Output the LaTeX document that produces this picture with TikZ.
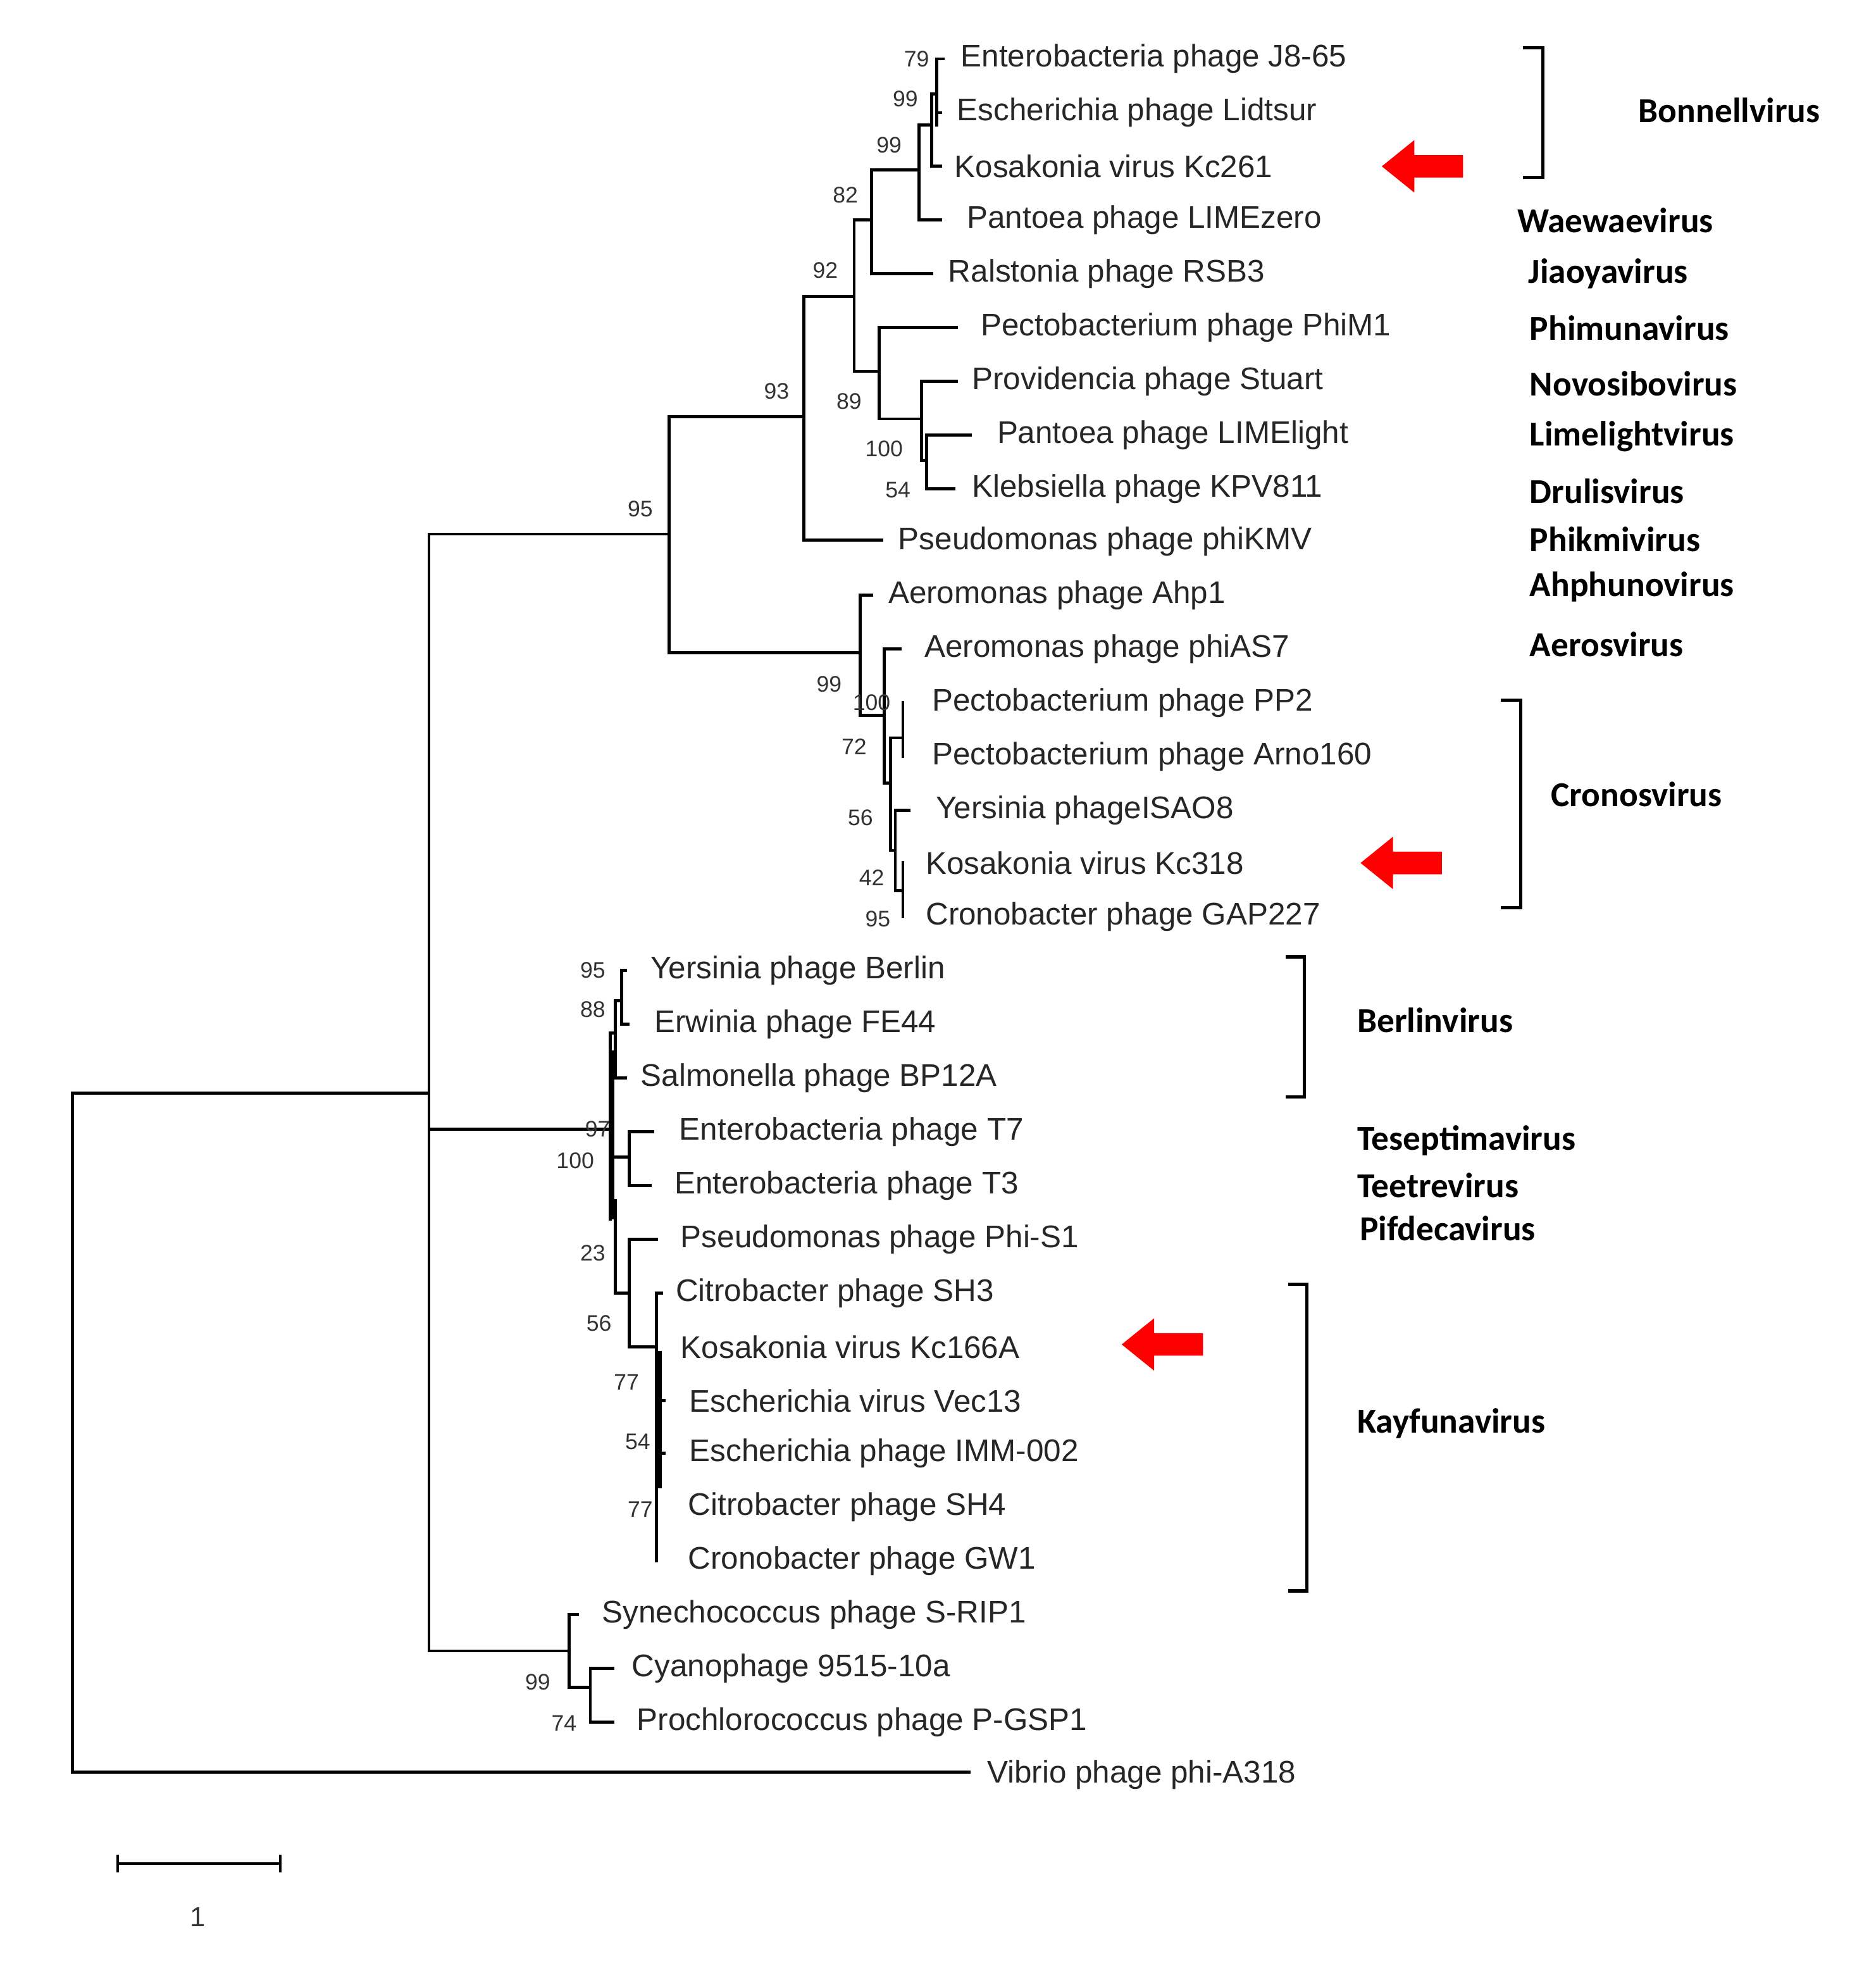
\documentclass[tikz,border=0pt]{standalone}
\usepackage{fontspec}
\setmainfont{Liberation Sans}
\newfontfamily\genfont{Carlito}
\begin{document}
\begin{tikzpicture}[x=0.5pt,y=-0.5pt,
  br/.style={line width=1.2pt,line cap=rect},
  leaf/.style={anchor=west,inner sep=0pt,font=\fontsize{12.5}{14}\selectfont,text=black!85},
  bs/.style={inner sep=0pt,font=\fontsize{9}{10}\selectfont,text=black!80},
  gen/.style={anchor=west,inner sep=0pt,font=\genfont\bfseries\fontsize{14}{16}\selectfont},
  brk/.style={line width=1.3pt},
  arr/.style={fill=red,draw=none}]
\useasboundingbox (0,0) rectangle (1500,1568);
% leaves
\node[leaf] (a1) at (768,47) {Enterobacteria phage J8-65};
\node[leaf] (a2) at (765,90) {Escherichia phage Lidtsur};
\node[leaf] (a3) at (763,133) {Kosakonia virus Kc261};
\node[leaf] (a4) at (773,176) {Pantoea phage LIMEzero};
\node[leaf] (a5) at (758,219) {Ralstonia phage RSB3};
\node[leaf] (a6) at (784,262) {Pectobacterium phage PhiM1};
\node[leaf] (a7) at (777,305) {Providencia phage Stuart};
\node[leaf] (a8) at (797,348) {Pantoea phage LIMElight};
\node[leaf] (a9) at (777,391) {Klebsiella phage KPV811};
\node[leaf] (a10) at (718,433) {Pseudomonas phage phiKMV};
\node[leaf] (a11) at (710,476) {Aeromonas phage Ahp1};
\node[leaf] (a12) at (739,519) {Aeromonas phage phiAS7};
\node[leaf] (a13) at (745,562) {Pectobacterium phage PP2};
\node[leaf] (a14) at (745,605) {Pectobacterium phage Arno160};
\node[leaf] (a15) at (748,648) {Yersinia phageISAO8};
\node[leaf] (a16) at (740,690) {Kosakonia virus Kc318};
\node[leaf] (a17) at (740,733) {Cronobacter phage GAP227};
\node[leaf] (b1) at (520,776) {Yersinia phage Berlin};
\node[leaf] (b2) at (523,819) {Erwinia phage FE44};
\node[leaf] (b3) at (512,862) {Salmonella phage BP12A};
\node[leaf] (b4) at (543,905) {Enterobacteria phage T7};
\node[leaf] (b5) at (539,948) {Enterobacteria phage T3};
\node[leaf] (b6) at (544,991) {Pseudomonas phage Phi-S1};
\node[leaf] (b7) at (540,1034) {Citrobacter phage SH3};
\node[leaf] (b8) at (544,1077) {Kosakonia virus Kc166A};
\node[leaf] (b9) at (551,1120) {Escherichia virus Vec13};
\node[leaf] (b10) at (551,1162) {Escherichia phage IMM-002};
\node[leaf] (b11) at (550,1205) {Citrobacter phage SH4};
\node[leaf] (b12) at (550,1248) {Cronobacter phage GW1};
\node[leaf] (c1) at (481,1291) {Synechococcus phage S-RIP1};
\node[leaf] (c2) at (505,1334) {Cyanophage 9515-10a};
\node[leaf] (c3) at (509,1377) {Prochlorococcus phage P-GSP1};
\node[leaf] (c4) at (789,1419) {Vibrio phage phi-A318};
% tree
\draw[br] (58,874) -- (58,1417) -- (775,1417);
\draw[br] (58,874) -- (343,874);
\draw[br] (343,427) -- (343,1320);
\draw[br] (343,427) -- (535,427);
\draw[br] (535,333) -- (535,522);
\draw[br] (535,333) -- (643,333);
\draw[br] (643,237) -- (643,432) -- (705,432);
\draw[br] (643,237) -- (683,237);
\draw[br] (683,176) -- (683,297);
\draw[br] (683,176) -- (697,176);
\draw[br] (697,136) -- (697,219) -- (745,219);
\draw[br] (697,136) -- (735,136);
\draw[br] (735,100) -- (735,176) -- (752,176);
\draw[br] (735,100) -- (745,100);
\draw[br] (745,75) -- (745,133) -- (752,133);
\draw[br] (745,75) -- (749,75);
\draw[br] (749,47) -- (749,100);
\draw[br] (749,47) -- (754,47);
\draw[br] (749,90) -- (752,90);
\draw[br] (683,297) -- (703,297);
\draw[br] (703,262) -- (703,335);
\draw[br] (703,262) -- (765,262);
\draw[br] (703,335) -- (737,335);
\draw[br] (737,305) -- (737,368);
\draw[br] (737,305) -- (765,305);
\draw[br] (737,368) -- (741,368);
\draw[br] (741,348) -- (741,391) -- (763,391);
\draw[br] (741,348) -- (776,348);
\draw[br] (535,522) -- (688,522);
\draw[br] (688,476) -- (688,572) -- (707,572);
\draw[br] (688,476) -- (697,476);
\draw[br] (707,519) -- (707,626);
\draw[br] (707,519) -- (720,519);
\draw[br] (707,626) -- (712,626);
\draw[br] (712,590) -- (712,680);
\draw[br] (712,590) -- (722,590);
\draw[br] (722,562) -- (722,605);
\draw[br] (712,680) -- (716,680);
\draw[br] (716,648) -- (716,712);
\draw[br] (716,648) -- (727,648);
\draw[br] (716,712) -- (722,712);
\draw[br] (722,690) -- (722,733);
% Berlin / T7 / Kayfuna
\draw[br] (343,903) -- (488,903);
\draw[br] (488,826) -- (488,975);
\draw[line width=2.2pt] (489,840) -- (489,975);
\draw[br] (488,826) -- (492,826);
\draw[br] (492,800) -- (492,862) -- (500,862);
\draw[br] (492,800) -- (497,800);
\draw[br] (497,776) -- (497,819) -- (502,819);
\draw[br] (497,776) -- (500,776);
\draw[br] (488,925) -- (503,925);
\draw[br] (503,905) -- (503,948) -- (520,948);
\draw[br] (503,905) -- (522,905);
\draw[br] (492,960) -- (492,1034) -- (503,1034);
\draw[br] (503,991) -- (503,1077) -- (525,1077);
\draw[br] (503,991) -- (525,991);
\draw[br] (525,1034) -- (525,1248);
\draw[line width=2pt] (527,1080) -- (527,1190);
\draw[br] (525,1034) -- (529,1034);
\draw[br] (525,1120) -- (531,1120);
\draw[br] (525,1162) -- (531,1162);
% Synechococcus
\draw[br] (343,1320) -- (455,1320);
\draw[br] (455,1291) -- (455,1349) -- (472,1349);
\draw[br] (455,1291) -- (462,1291);
\draw[br] (472,1334) -- (472,1377) -- (490,1377);
\draw[br] (472,1334) -- (490,1334);
% bootstrap
\foreach \t/\x/\y in {79/733/47,99/724/79,99/711/116,82/676/156,92/660/216,93/621/313,89/679/321,100/707/359,54/718/392,95/512/407,
 99/663/547,100/697/562,72/683/597,56/688/654,42/697/702,95/702/735,
 95/474/776,88/474/807,97/478/903,100/460/928,23/474/1002,56/479/1058,77/501/1105,54/510/1153,77/512/1207,99/430/1345,74/451/1378}
  \node[bs] at (\x,\y) {\t};
% genus labels
\node[gen] (g1) at (1310,88) {Bonnellvirus};
\node[gen] (g2) at (1213,176) {Waewaevirus};
\node[gen] (g3) at (1222,219) {Jiaoyavirus};
\node[gen] (g4) at (1223,262) {Phimunavirus};
\node[gen] (g5) at (1223,307) {Novosibovirus};
\node[gen] (g6) at (1223,349) {Limelightvirus};
\node[gen] (g7) at (1223,393) {Drulisvirus};
\node[gen] (g8) at (1223,431) {Phikmivirus};
\node[gen] (g9) at (1223,469) {Ahphunovirus};
\node[gen] (g10) at (1223,515) {Aerosvirus};
\node[gen] (g11) at (1240,635) {Cronosvirus};
\node[gen] (g12) at (1085,816) {Berlinvirus};
\node[gen] (g13) at (1085,912) {Teseptimavirus};
\node[gen] (g14) at (1085,948) {Teetrevirus};
\node[gen] (g15) at (1087,982) {Pifdecavirus};
\node[gen] (g16) at (1085,1138) {Kayfunavirus};
% brackets
\draw[brk] (1218,38) -- (1234,38) -- (1234,142) -- (1218,142);
\draw[brk] (1200,560) -- (1216,560) -- (1216,726) -- (1200,726);
\draw[brk] (1028,765) -- (1043,765) -- (1043,877) -- (1028,877);
\draw[brk] (1030,1027) -- (1045,1027) -- (1045,1272) -- (1030,1272);
% arrows
\foreach \x/\y in {1105/133,1088/690,897/1075}
  \fill[arr] (\x,\y) -- (\x+26,\y-21) -- (\x+26,\y-9) -- (\x+65,\y-9) -- (\x+65,\y+9) -- (\x+26,\y+9) -- (\x+26,\y+21) -- cycle;
% scale bar
\draw[line width=1pt] (94,1490) -- (224,1490);
\draw[line width=1pt] (94,1483) -- (94,1497);
\draw[line width=1pt] (224,1483) -- (224,1497);
\node[bs,font=\fontsize{11}{12}\selectfont] (sc) at (158,1533) {1};
\end{tikzpicture}
\end{document}
